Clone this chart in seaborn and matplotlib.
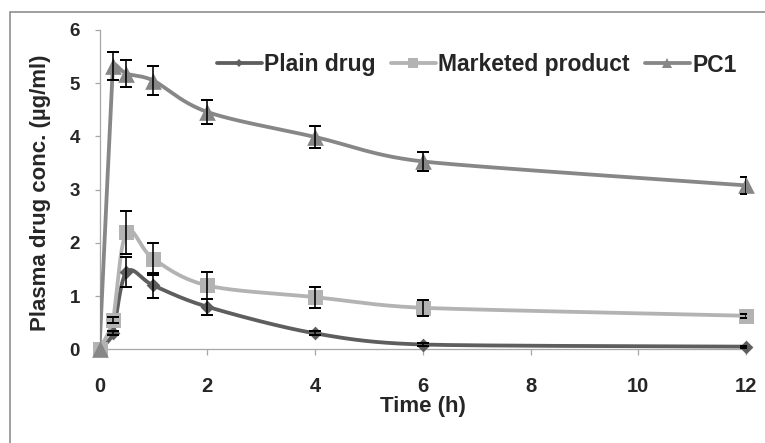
import numpy as np
import pandas as pd
import matplotlib
matplotlib.use("Agg")
import matplotlib.pyplot as plt
from matplotlib.patches import Rectangle
from matplotlib.lines import Line2D
import seaborn as sns

# Sampling times (h)
time_h = [0, 0.25, 0.5, 1, 2, 4, 6, 12]

# Mean plasma concentrations (µg/ml)
plain_drug = [0.0, 0.30, 1.45, 1.20, 0.80, 0.30, 0.09, 0.05]
marketed_product = [0.0, 0.55, 2.20, 1.70, 1.20, 0.98, 0.78, 0.63]
pc1 = [0.0, 5.32, 5.18, 5.05, 4.46, 3.99, 3.53, 3.08]

# Standard deviations
plain_err = [0.0, 0.04, 0.28, 0.24, 0.15, 0.04, 0.03, 0.02]
marketed_err = [0.0, 0.05, 0.40, 0.30, 0.25, 0.20, 0.15, 0.04]
pc1_err = [0.0, 0.26, 0.26, 0.27, 0.23, 0.20, 0.18, 0.16]

series_names = ["Plain drug", "Marketed product", "PC1"]
x_ticks = [0, 2, 4, 6, 8, 10, 12]
y_ticks = [0, 1, 2, 3, 4, 5, 6]

sns.set_theme(style="white")
plt.rcParams["font.family"] = ["Liberation Sans", "DejaVu Sans"]

W, H = 765, 443
PT = 72 / 100  # points per pixel at 100 dpi
fig = plt.figure(figsize=(W / 100, H / 100), dpi=100)
fig.patch.set_facecolor("white")

# outer chart border (only its top and left edges fall inside the canvas)
fig.patches.append(Rectangle((10 / W, -0.1), 1.2, (H - 12) / H + 0.1,
                             transform=fig.transFigure, fill=False,
                             edgecolor="#8a8a8a", linewidth=1.6 * PT, zorder=0))

x0, x1, y_top, y_bot = 99.5, 746.0, 30.0, 349.3
ax = fig.add_axes([x0 / W, (H - y_bot) / H, (x1 - x0) / W, (y_bot - y_top) / H])
ax.set_facecolor("white")

colors = ["#5e5e5e", "#b3b3b3", "#878787"]
markers = ["D", "s", "^"]
msizes = [7.0, 10.8, 12.0]
values = [plain_drug, marketed_product, pc1]
errors = [plain_err, marketed_err, pc1_err]

xlim = (0, 12)
ylim = (0, 6)
px_x = (x1 - x0) / (xlim[1] - xlim[0])
px_y = (y_bot - y_top) / (ylim[1] - ylim[0])


def smooth_curve(xs, ys, n=40):
    """Bezier smoothing through the points, computed in screen space."""
    P = np.column_stack([np.asarray(xs) * px_x, np.asarray(ys) * px_y])
    m = len(P)
    tang = []
    for i in range(m):
        p_prev = P[i - 1] if i > 0 else P[i]
        p_next = P[i + 1] if i + 1 < m else P[i]
        t = (p_next - p_prev) / 6.0
        seg = []
        if i > 0:
            seg.append(np.linalg.norm(P[i] - P[i - 1]))
        if i + 1 < m:
            seg.append(np.linalg.norm(P[i + 1] - P[i]))
        lim = 0.45 * min(seg)
        ln = np.linalg.norm(t)
        if ln > lim > 0:
            t = t * lim / ln
        tang.append(t)
    out = []
    for i in range(m - 1):
        p1, p2 = P[i], P[i + 1]
        c1 = p1 + tang[i]
        c2 = p2 - tang[i + 1]
        t = np.linspace(0, 1, n)[:, None]
        seg = ((1 - t) ** 3) * p1 + 3 * ((1 - t) ** 2) * t * c1 + 3 * (1 - t) * t ** 2 * c2 + t ** 3 * p2
        out.append(seg if i == 0 else seg[1:])
    S = np.vstack(out)
    return S[:, 0] / px_x, S[:, 1] / px_y


line_w = 3.8 * PT
for name, vals, errs, col, mk, ms in zip(series_names, values, errors, colors, markers, msizes):
    sx, sy = smooth_curve(time_h, vals)
    curve = pd.DataFrame({"t": sx, "c": sy})
    sns.lineplot(data=curve, x="t", y="c", sort=False, color=col, linewidth=line_w,
                 ax=ax, zorder=2, estimator=None)
    pts = pd.DataFrame({"t": time_h, "c": vals})
    sns.scatterplot(data=pts, x="t", y="c", marker=mk, s=ms ** 2, color=col,
                    edgecolor=col, linewidth=0, ax=ax, zorder=3, clip_on=False)
    ax.errorbar(time_h[1:], vals[1:], yerr=errs[1:], fmt="none", ecolor="black",
                elinewidth=1.6 * PT, capsize=6 * PT, capthick=2.0 * PT, zorder=4)

ax.set_xlim(*xlim)
ax.set_ylim(*ylim)
ax.set_xticks(x_ticks)
ax.set_yticks(y_ticks)
ax.set_xticklabels([str(v) for v in x_ticks], fontsize=14.5, fontweight="bold")
ax.set_yticklabels([str(v) for v in y_ticks], fontsize=13.5, fontweight="bold")

for side in ["top", "right"]:
    ax.spines[side].set_visible(False)
for side in ["left", "bottom"]:
    ax.spines[side].set_color("#a8a8a8")
    ax.spines[side].set_linewidth(1.3 * PT)
    ax.spines[side].set_zorder(1)

ax.tick_params(axis="both", which="major", direction="out", length=5.5 * PT,
               width=1.3 * PT, color="#a8a8a8", left=True, bottom=True)
ax.tick_params(axis="x", pad=22 * PT)
ax.tick_params(axis="y", pad=14 * PT)

ax.set_xlabel("Time (h)", fontsize=16, fontweight="bold")
ax.xaxis.set_label_coords(0.5, (y_bot - 396) / (y_bot - y_top))
ax.xaxis.label.set_va("top")

ax.set_ylabel("Plasma drug conc. (µg/ml)", fontsize=16, fontweight="bold")
ax.yaxis.set_label_coords((40 - x0) / (x1 - x0), (y_bot - 193) / (y_bot - y_top))
ax.yaxis.label.set_va("center")

handles = [Line2D([0], [0], color=c, linewidth=line_w, marker=m, markersize=s * 0.62,
                  markeredgewidth=0) for c, m, s in zip(colors, markers, msizes)]
leg = fig.legend(handles, series_names, ncol=3, frameon=False, loc="center left",
                 bbox_to_anchor=(217 / W, 1 - 65 / H), borderpad=0, borderaxespad=0,
                 handlelength=1.95, handletextpad=0.12, columnspacing=0.65,
                 prop={"weight": "bold", "size": 16.5})

fig.savefig("out.png", dpi=100, facecolor="white")
